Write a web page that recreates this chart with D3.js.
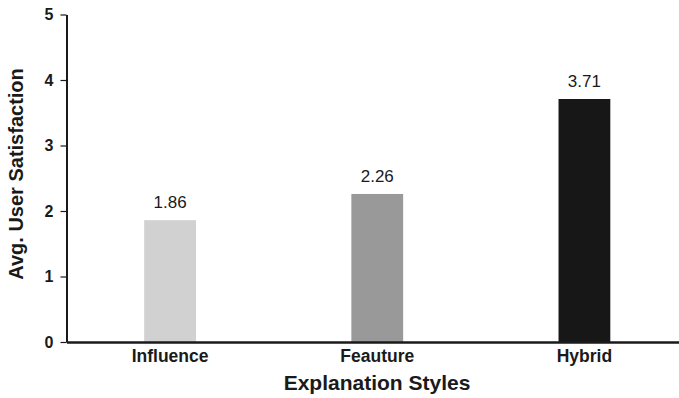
<!DOCTYPE html>
<html>
<head>
<meta charset="utf-8">
<script src="https://cdn.jsdelivr.net/npm/d3@7"></script>
<style>
  body { margin: 0; background: #fff; }
  text { font-family: "Liberation Sans", Arial, sans-serif; }
</style>
</head>
<body>
<div id="chart"></div>
<script>
// data
var styles = ["Influence", "Feauture", "Hybrid"];
var satisfaction = [1.86, 2.26, 3.71];
var barColors = ["#d0d1d0", "#999999", "#171717"];
var yTicks = [0, 1, 2, 3, 4, 5];

var width = 679, height = 398;
var margin = {top: 14.5, left: 66.5, bottom: 56};

var svg = d3.select("#chart")
  .append("svg")
    .attr("width", width)
    .attr("height", height);

var x = d3.scaleBand()
  .domain(styles)
  .range([margin.left, 688])
  .paddingInner(0.75)
  .paddingOuter(0.375);

var y = d3.scaleLinear()
  .domain([0, 5])
  .range([height - margin.bottom, margin.top]);

// bars
svg.selectAll(".bar")
  .data(styles)
  .enter()
  .append("rect")
    .attr("class", "bar")
    .attr("x", function(d) { return x(d); })
    .attr("y", function(d, i) { return y(satisfaction[i]); })
    .attr("width", x.bandwidth())
    .attr("height", function(d, i) { return y(0) - y(satisfaction[i]); })
    .attr("fill", function(d, i) { return barColors[i]; });

// value labels
svg.selectAll(".val")
  .data(styles)
  .enter()
  .append("text")
    .attr("class", "val")
    .attr("x", function(d) { return x(d) + x.bandwidth() / 2; })
    .attr("y", function(d, i) { return y(satisfaction[i]) - 12; })
    .attr("text-anchor", "middle")
    .style("font-size", "17px")
    .style("fill", "#1a1a1a")
    .text(function(d, i) { return satisfaction[i].toFixed(2); });

// y axis
var yAxis = svg.append("g")
  .attr("transform", "translate(" + margin.left + ",0)")
  .call(d3.axisLeft(y).tickValues(yTicks).tickFormat(d3.format("d")).tickSize(6).tickSizeOuter(0).tickPadding(7));
yAxis.select(".domain").attr("stroke", "#1a1a1a").attr("stroke-width", 2);
yAxis.selectAll(".tick line").attr("stroke", "#1a1a1a").attr("stroke-width", 1.2);
yAxis.selectAll(".tick text")
  .style("font-size", "16px")
  .style("font-weight", "bold")
  .style("fill", "#1a1a1a")
  .style("font-family", "'Liberation Sans', Arial, sans-serif");

// x axis
var xAxis = svg.append("g")
  .attr("transform", "translate(0," + y(0) + ")")
  .call(d3.axisBottom(x).tickSize(0).tickSizeOuter(0).tickPadding(8));
xAxis.select(".domain").attr("stroke", "#1a1a1a").attr("stroke-width", 2.5);
xAxis.selectAll(".tick text")
  .style("font-size", "17.5px")
  .style("font-weight", "bold")
  .style("fill", "#1a1a1a")
  .style("font-family", "'Liberation Sans', Arial, sans-serif");

// axis titles
svg.append("text")
  .attr("x", 377)
  .attr("y", 390)
  .attr("text-anchor", "middle")
  .style("font-size", "21px")
  .style("font-weight", "bold")
  .style("fill", "#1a1a1a")
  .text("Explanation Styles");

svg.append("text")
  .attr("transform", "translate(23," + 174 + ") rotate(-90)")
  .attr("text-anchor", "middle")
  .style("font-size", "20px")
  .style("font-weight", "bold")
  .style("fill", "#1a1a1a")
  .text("Avg. User Satisfaction");
</script>
</body>
</html>
